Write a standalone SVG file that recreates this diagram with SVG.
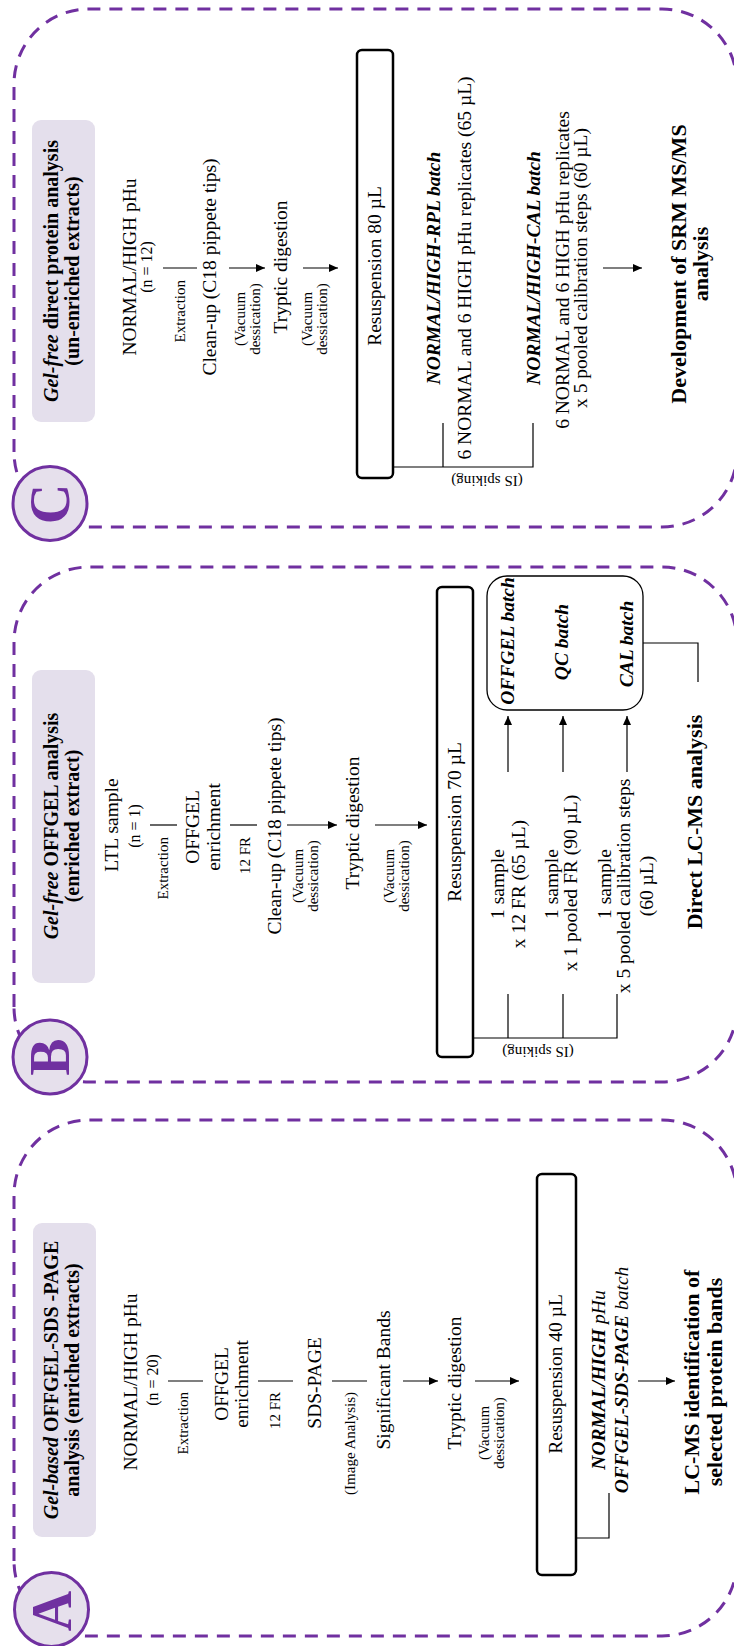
<svg xmlns="http://www.w3.org/2000/svg" width="734" height="1646" viewBox="0 0 734 1646">
<defs>
<style>
.frame{fill:none;stroke:#7030A0;stroke-width:3;stroke-dasharray:13 9}
.tag{fill:#E4DFEC;stroke:none}
.badge{fill:#E6E0EC;stroke:#7030A0;stroke-width:3}
.letter{font-family:"Liberation Serif","Times New Roman",serif;font-weight:bold;font-size:56px;fill:#7030A0;text-anchor:middle}
.box{fill:#fff;stroke:#000;stroke-width:2.5}
.batch{fill:#fff;stroke:#000;stroke-width:1.3}
text{font-family:"Liberation Serif","Times New Roman",serif;fill:#000;text-anchor:middle;font-size:19.5px}
.h{font-weight:bold;font-size:20px}
.b{font-weight:bold;font-size:22px}
.bi{font-weight:bold;font-style:italic;font-size:19.5px}
.i{font-style:italic}
.s{font-size:15px}
.e{font-size:15px;text-anchor:end}
.n{font-size:16px}
.ln{fill:none;stroke:#000;stroke-width:1.2}
.ar{fill:none;stroke:#000;stroke-width:1.2;marker-end:url(#ah)}
</style>
<marker id="ah" viewBox="0 0 9 8" refX="9" refY="4" markerWidth="9" markerHeight="8" markerUnits="userSpaceOnUse" orient="auto">
<path d="M0 0L9 4L0 8z" fill="#000"/>
</marker>
</defs>
<rect width="734" height="1646" fill="#fff"/>
<!-- three workflow panels laid out left to right, turned a quarter turn -->
<g transform="translate(0 1646) rotate(-90)">

<!-- panel frames -->
<g id="frames">
<rect class="frame" x="10" y="14" width="516" height="723" rx="75"/>
<rect class="frame" x="564" y="14" width="515" height="723" rx="75"/>
<rect class="frame" x="1119" y="14" width="518" height="723" rx="75"/>
</g>

<!-- connectors -->
<g id="connectors">
<!-- A -->
<path class="ln" d="M265 168V203"/>
<path class="ln" d="M265 258V293"/>
<path class="ln" d="M265 332V367"/>
<path class="ar" d="M265 403V438"/>
<path class="ar" d="M265 475V519"/>
<path class="ln" d="M108 576V609H153"/>
<path class="ar" d="M265 638V675"/>
<!-- B -->
<path class="ln" d="M821 150V177"/>
<path class="ln" d="M821 230V257"/>
<path class="ar" d="M821 287V337"/>
<path class="ar" d="M821 375V427"/>
<path class="ln" d="M608 473V617H652M608 508H652M608 563H652"/>
<path class="ar" d="M874 508H930"/>
<path class="ar" d="M874 563H930"/>
<path class="ar" d="M874 627H930"/>
<path class="ln" d="M1003 643V698H964"/>
<!-- C -->
<path class="ln" d="M1378 163V197"/>
<path class="ar" d="M1378 229V265"/>
<path class="ar" d="M1378 303V338"/>
<path class="ln" d="M1179 393V533H1223M1179 443H1223"/>
<path class="ar" d="M1378 603V642"/>
</g>

<!-- panel A: gel-based workflow -->
<g id="panel-a">
<g id="a-title">
<rect class="tag" x="109" y="33" width="314" height="63" rx="9"/>
<text class="h" x="266" y="58"><tspan font-style="italic">Gel-based</tspan> OFFGEL-SDS -PAGE</text>
<text class="h" x="266" y="79">analysis (enriched extracts)</text>
</g>
<g id="a-badge">
<circle class="badge" cx="36.5" cy="51.5" r="37"/>
<text class="letter" x="35" y="71">A</text>
</g>
<g id="a-sample">
<text x="264" y="137">NORMAL/HIGH pHu</text>
<text class="n" x="266" y="158">(n = 20)</text>
<text class="e" x="254" y="188">Extraction</text>
</g>
<g id="a-offgel">
<text x="262" y="228">OFFGEL</text>
<text x="262" y="248">enrichment</text>
<text class="e" x="254" y="280">12 FR</text>
</g>
<g id="a-sds">
<text x="263" y="321">SDS-PAGE</text>
<text class="e" x="254" y="355">(Image Analysis)</text>
</g>
<g id="a-bands"><text x="266" y="390">Significant Bands</text></g>
<g id="a-digest">
<text x="263" y="461">Tryptic digestion</text>
<text class="s" x="213" y="489">(Vacuum</text>
<text class="s" x="213" y="504">dessication)</text>
</g>
<g id="a-resusp">
<rect class="box" x="71" y="537" width="401" height="39" rx="5"/>
<text x="272" y="562">Resuspension 40 µL</text>
</g>
<g id="a-batch">
<text class="i" x="266" y="605"><tspan font-weight="bold">NORMAL/HIGH</tspan> pHu</text>
<text class="i" x="266" y="628"><tspan font-weight="bold">OFFGEL-SDS-PAGE</tspan> batch</text>
</g>
<g id="a-result">
<text class="b" x="264" y="699">LC-MS identification of</text>
<text class="b" x="264" y="722">selected protein bands</text>
</g>
</g>

<!-- panel B: gel-free OFFGEL workflow -->
<g id="panel-b">
<g id="b-title">
<rect class="tag" x="663" y="32" width="313" height="63" rx="9"/>
<text class="h" x="820" y="58"><tspan font-style="italic">Gel-free</tspan> OFFGEL analysis</text>
<text class="h" x="820" y="79">(enriched extract)</text>
</g>
<g id="b-badge">
<circle class="badge" cx="589" cy="50" r="37"/>
<text class="letter" x="589" y="69">B</text>
</g>
<g id="b-sample">
<text x="821" y="118">LTL sample</text>
<text class="n" x="820" y="140">(n = 1)</text>
<text class="e" x="809" y="168">Extraction</text>
</g>
<g id="b-offgel">
<text x="819" y="199">OFFGEL</text>
<text x="819" y="220">enrichment</text>
<text class="e" x="809" y="250">12 FR</text>
</g>
<g id="b-cleanup">
<text x="820" y="281">Clean-up (C18 pippete tips)</text>
<text class="s" x="770" y="303">(Vacuum</text>
<text class="s" x="770" y="318">dessication)</text>
</g>
<g id="b-digest">
<text x="823" y="359">Tryptic digestion</text>
<text class="s" x="770" y="394">(Vacuum</text>
<text class="s" x="770" y="409">dessication)</text>
</g>
<g id="b-resusp">
<rect class="box" x="589" y="437" width="470" height="36" rx="5"/>
<text x="824" y="461">Resuspension 70 µL</text>
<text class="s" transform="translate(599 538) rotate(-90)">(IS spiking)</text>
</g>
<g id="b-samples">
<text x="762" y="504">1 sample</text>
<text x="762" y="525">x 12 FR (65 µL)</text>
<text x="762" y="558">1 sample</text>
<text x="763" y="577">x 1 pooled FR (90 µL)</text>
<text x="762" y="611">1 sample</text>
<text x="760" y="630">x 5 pooled calibration steps</text>
<text x="760" y="653">(60 µL)</text>
</g>
<g id="b-batches">
<rect class="batch" x="936" y="487" width="134" height="156" rx="20"/>
<text class="bi" x="1005" y="514">OFFGEL batch</text>
<text class="bi" x="1004" y="568">QC batch</text>
<text class="bi" x="1002" y="633">CAL batch</text>
</g>
<g id="b-result"><text class="b" x="824" y="702">Direct LC-MS analysis</text></g>
</g>

<!-- panel C: gel-free direct workflow -->
<g id="panel-c">
<g id="c-title">
<rect class="tag" x="1224" y="32" width="302" height="63" rx="9"/>
<text class="h" x="1375" y="58"><tspan font-style="italic">Gel-free</tspan> direct protein analysis</text>
<text class="h" x="1375" y="79">(un-enriched extracts)</text>
</g>
<g id="c-badge">
<circle class="badge" cx="1142.5" cy="50" r="37"/>
<text class="letter" x="1142" y="69">C</text>
</g>
<g id="c-sample">
<text x="1379" y="136">NORMAL/HIGH pHu</text>
<text class="n" x="1379" y="152">(n = 12)</text>
<text class="e" x="1366" y="185">Extraction</text>
</g>
<g id="c-cleanup">
<text x="1379" y="216">Clean-up (C18 pippete tips)</text>
<text class="s" x="1327" y="245">(Vacuum</text>
<text class="s" x="1327" y="260">dessication)</text>
</g>
<g id="c-digest">
<text x="1379" y="287">Tryptic digestion</text>
<text class="s" x="1327" y="312">(Vacuum</text>
<text class="s" x="1327" y="327">dessication)</text>
</g>
<g id="c-resusp">
<rect class="box" x="1168" y="357" width="428" height="36" rx="5"/>
<text x="1380" y="381">Resuspension 80 µL</text>
<text class="s" transform="translate(1170 487) rotate(-90)">(IS spiking)</text>
</g>
<g id="c-batches">
<text class="bi" x="1378" y="440">NORMAL/HIGH-RPL batch</text>
<text x="1378" y="471">6 NORMAL and 6 HIGH pHu replicates (65 µL)</text>
<text class="bi" x="1378" y="540">NORMAL/HIGH-CAL batch</text>
<text x="1376" y="569">6 NORMAL and 6 HIGH pHu replicates</text>
<text x="1378" y="587">x 5 pooled calibration steps (60 µL)</text>
</g>
<g id="c-result">
<text class="b" x="1382" y="686">Development of SRM MS/MS</text>
<text class="b" x="1382" y="708">analysis</text>
</g>
</g>

</g>
</svg>
